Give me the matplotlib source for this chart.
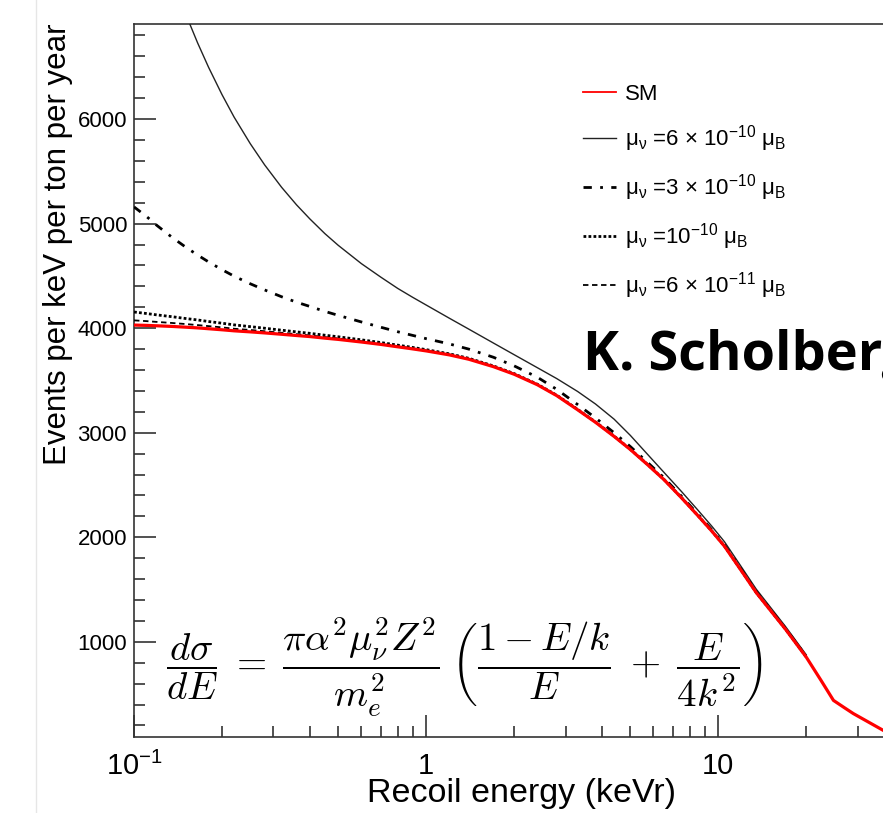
import matplotlib.pyplot as plt
from matplotlib.lines import Line2D
from matplotlib.ticker import FixedLocator, FixedFormatter, LogLocator, MultipleLocator, NullFormatter

plt.rcParams['font.family'] = 'Liberation Sans'
plt.rcParams['mathtext.fontset'] = 'custom'
plt.rcParams['mathtext.rm'] = 'Liberation Sans'
plt.rcParams['mathtext.it'] = 'Liberation Sans:italic'

# recoil energies (keVr)
energy = [0.1, 0.11, 0.12, 0.135, 0.15, 0.165, 0.18, 0.2, 0.22, 0.25, 0.28, 0.32, 0.36,
          0.4, 0.45, 0.5, 0.6, 0.7, 0.8, 0.9, 1.0, 1.2, 1.4, 1.7, 2.0, 2.4, 2.8, 3.3,
          3.8, 4.4, 5.0, 5.7, 6.5, 7.5, 8.5, 9.5, 10.5, 12, 13.5, 15, 17, 20,
          22.5, 24.8, 27, 29, 33, 37, 41, 45]
# events per keV per ton per year, standard model
sm = [4030, 4027, 4023, 4017, 4010, 4003, 3995, 3985, 3975, 3965, 3955, 3942, 3930,
      3920, 3905, 3893, 3868, 3845, 3822, 3802, 3783, 3745, 3703, 3632, 3560, 3460, 3355, 3220,
      3100, 2965, 2840, 2700, 2555, 2375, 2210, 2060, 1915, 1680, 1470, 1310, 1120, 855,
      630, 440, 371, 314, 226, 148, 95, 40]

# magnetic moment curves, same energies up to 20 keVr (they sit on SM above that)
energy_mag = energy[:42]
mu_6e10 = [8530, 8118, 7773, 7350, 7010, 6730, 6495, 6235, 6020, 5765, 5562, 5348, 5180,
           5045, 4905, 4793, 4618, 4488, 4380, 4295, 4222, 4096, 3991, 3858, 3747, 3623, 3518, 3395,
           3275, 3130, 2975, 2800, 2625, 2435, 2263, 2107, 1958, 1717, 1503, 1340, 1146, 877]
mu_3e10 = [5160, 5072, 4981, 4869, 4777, 4700, 4634, 4560, 4498, 4425, 4366, 4301, 4249,
           4208, 4161, 4123, 4060, 4009, 3966, 3931, 3900, 3850, 3800, 3722, 3640, 3532, 3415, 3270,
           3142, 3000, 2868, 2722, 2573, 2390, 2224, 2072, 1926, 1690, 1479, 1318, 1127, 861]
mu_1e10 = [4155, 4141, 4127, 4110, 4093, 4079, 4064, 4048, 4032, 4015, 4000, 3981, 3965,
           3951, 3933, 3918, 3889, 3863, 3838, 3816, 3795, 3755, 3712, 3639, 3566, 3465, 3359, 3224,
           3103, 2968, 2842, 2702, 2557, 2377, 2211, 2061, 1916, 1681, 1471, 1311, 1121, 856]
mu_6e11 = [4075, 4068, 4060, 4050, 4040, 4030, 4020, 4008, 3995, 3983, 3971, 3956, 3943,
           3931, 3915, 3902, 3876, 3851, 3828, 3807, 3788, 3749, 3706, 3635, 3562, 3462, 3357, 3221,
           3101, 2966, 2841, 2701, 2556, 2376, 2211, 2060, 1915, 1680, 1470, 1310, 1120, 855]

labels = ['SM',
          r'$\mathregular{\mu_{\nu}}$ =6 $\times$ 10$^{\mathregular{-10}}$ $\mathregular{\mu_{B}}$',
          r'$\mathregular{\mu_{\nu}}$ =3 $\times$ 10$^{\mathregular{-10}}$ $\mathregular{\mu_{B}}$',
          r'$\mathregular{\mu_{\nu}}$ =10$^{\mathregular{-10}}$ $\mathregular{\mu_{B}}$',
          r'$\mathregular{\mu_{\nu}}$ =6 $\times$ 10$^{\mathregular{-11}}$ $\mathregular{\mu_{B}}$']

styles = [dict(color='red', lw=1.3),
          dict(color='#222222', lw=1.0),
          dict(color='black', lw=2.0, ls=(0, (3, 3, 1, 3))),
          dict(color='black', lw=2.0, ls=(0, (1, 0.8))),
          dict(color='black', lw=1.3, ls=(0, (3, 2)))]

fig = plt.figure(figsize=(8.83, 8.13), dpi=100)
ax = fig.add_axes([0.1518, 0.0935, 0.8777, 0.877])

for y, st in zip([mu_6e10, mu_3e10, mu_1e10, mu_6e11], styles[1:]):
    ax.plot(energy_mag, y, zorder=3, **st)
ax.plot(energy, sm, color='red', lw=2.3, zorder=4)

ax.set_xscale('log')
ax.set_xlim(0.1, 45)
ax.set_ylim(90, 6910)

ax.xaxis.set_major_locator(FixedLocator([0.1, 1, 10]))
ax.xaxis.set_major_formatter(FixedFormatter([r'10$^{\mathregular{-1}}$', '1', '10']))
ax.xaxis.set_minor_locator(LogLocator(base=10, subs=range(2, 10)))
ax.xaxis.set_minor_formatter(NullFormatter())
ax.yaxis.set_major_locator(MultipleLocator(1000))
ax.yaxis.set_minor_locator(MultipleLocator(200))

ax.tick_params(which='both', direction='in', top=False, right=False, width=1.1,
               color='#222222')
ax.tick_params(which='major', length=16)
ax.tick_params(which='minor', length=8)
ax.tick_params(axis='y', pad=5, labelsize=16)
ax.tick_params(axis='x', pad=10.5, labelsize=21)
for s in ax.spines.values():
    s.set_color('#333333')
    s.set_linewidth(1.2)

ax.set_xlabel('Recoil energy (keVr)', fontsize=24.5)
ax.xaxis.set_label_coords(0.5, -0.058)
ax.set_ylabel('Events per keV per ton per year', fontsize=22.5, loc='top')
ax.yaxis.set_label_coords(-0.079, 1.0)

handles = [Line2D([], [], **st) for st in styles]
ax.legend(handles, labels, loc='upper left',
          bbox_to_anchor=(583 / 883, 1 - 84 / 813), bbox_transform=fig.transFigure,
          frameon=False, fontsize=16, handlelength=1.5, handletextpad=0.4,
          labelspacing=0.82, borderpad=0, borderaxespad=0)

fig.text(583 / 883, 1 - 370 / 813, 'K. Scholberg', fontsize=39, fontweight='bold',
         family='Open Sans', va='baseline')

fig.text(166 / 883, 1 - 667 / 813,
         r'$\dfrac{d\sigma}{dE}\;=\;\dfrac{\pi\alpha^2\mu_\nu^2Z^2}{m_e^2}\;'
         r'\left(\dfrac{1-E/k}{E}\;+\;\dfrac{E}{4k^2}\right)$',
         fontsize=28, math_fontfamily='cm', va='center', ha='left')

# slide border
fig.add_artist(Line2D([36 / 883, 36 / 883], [0, 1], color='#e6e6e6', lw=1))

fig.savefig('out.png', dpi=100)
